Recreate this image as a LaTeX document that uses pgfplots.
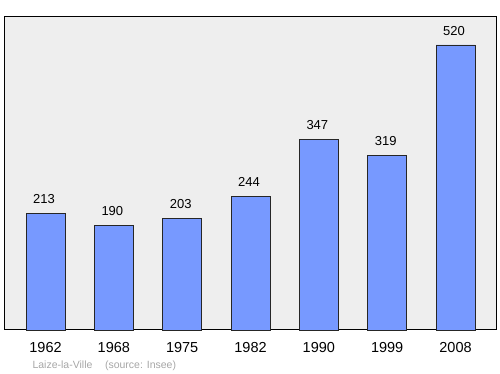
\documentclass[border=0pt]{standalone}
\usepackage{pgfplots}
\pgfplotsset{compat=1.18}
\usepackage{fontspec}
\setmainfont{Liberation Sans}
\definecolor{barblue}{HTML}{7799FF}
\definecolor{panel}{HTML}{EEEEEE}
\begin{document}
\begin{tikzpicture}[x=1pt,y=1pt]
\useasboundingbox (0,0) rectangle (500,374);
\begin{axis}[
  at={(5pt,44pt)}, anchor=south west,
  scale only axis, width=492pt, height=313pt,
  xmin=-0.593, xmax=6.607, ymin=0, ymax=571,
  axis background/.style={fill=panel},
  axis line style={black, line width=1pt},
  ymajorticks=false,
  xtick={0,1,2,3,4,5,6},
  xticklabels={1962,1968,1975,1982,1990,1999,2008},
  xtick style={draw=none},
  xticklabel style={font=\fontsize{14.5}{16}\selectfont, yshift=-5pt},
  /pgf/number format/assume math mode=true,
  ybar, bar width=39pt,
  nodes near coords,
  every node near coord/.append style={font=\fontsize{13}{15}\selectfont, yshift=6pt, xshift=-1.5pt},
  clip=false,
]
\addplot[fill=barblue, draw=black!85, line width=0.8pt] coordinates {
(0,213) (1,190) (2,203) (3,244) (4,347) (5,319) (6,520)};
\end{axis}
\node[anchor=west, text=black!35, font=\fontsize{10.5}{12}\selectfont] at (29,8) {Laize-la-Ville\hspace{1.2em}(source: Insee)};
\end{tikzpicture}
\end{document}
